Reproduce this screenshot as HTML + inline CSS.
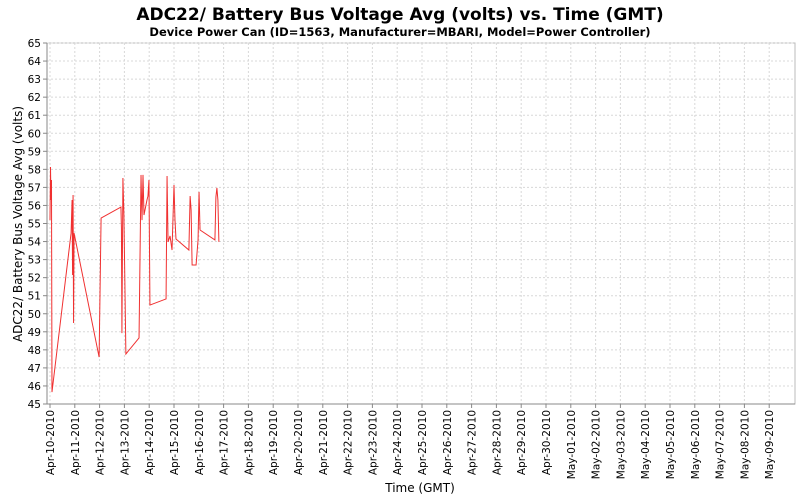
<!DOCTYPE html>
<html><head><meta charset="utf-8"><style>
body{margin:0;background:#fff;font-family:"DejaVu Sans","Liberation Sans",sans-serif}
</style></head><body>
<svg id="c" width="800" height="500" xmlns="http://www.w3.org/2000/svg">
<text x="400" y="20" text-anchor="middle" font-size="17" font-weight="bold">ADC22/ Battery Bus Voltage Avg (volts) vs. Time (GMT)</text>
<text x="400" y="36" text-anchor="middle" font-size="11.5" font-weight="bold">Device Power Can (ID=1563, Manufacturer=MBARI, Model=Power Controller)</text>
<rect x="47" y="43" width="748" height="361" fill="#fff" stroke="#bbb"/>
<g id="grid"></g><g id="axes"></g>
<polyline id="line" fill="none" stroke="#f03030" stroke-width="1"/>
<text x="420" y="492" text-anchor="middle" font-size="12">Time (GMT)</text>
<text transform="translate(22,224) rotate(-90)" text-anchor="middle" font-size="12">ADC22/ Battery Bus Voltage Avg (volts)</text>
</svg>
<script>
const dayOffsets=[0,0.02,0.04,0.06,0.08,0.85,0.89,0.91,0.93,0.95,0.97,1.98,2.06,2.86,2.88,2.9,2.94,2.98,3.06,3.59,3.67,3.71,3.75,3.79,3.91,3.95,3.99,4.03,4.68,4.72,4.76,4.84,4.92,5.0,5.04,5.08,5.6,5.65,5.69,5.73,5.89,5.97,6.01,6.05,6.65,6.69,6.73,6.77,6.81];
const volts=[55.19,58.13,56.3,57.41,45.66,54.47,56.3,52.15,56.58,49.49,54.47,47.6,55.3,55.91,54.75,48.93,57.52,55.47,47.77,48.66,57.69,55.19,57.69,55.47,56.3,56.52,57.41,50.48,50.82,57.63,53.98,54.31,53.53,57.13,55.19,54.14,53.53,56.52,55.75,52.7,52.7,54.09,56.75,54.64,54.09,56.47,56.97,56.3,53.98];
const xLabels=["Apr-10-2010","Apr-11-2010","Apr-12-2010","Apr-13-2010","Apr-14-2010","Apr-15-2010","Apr-16-2010","Apr-17-2010","Apr-18-2010","Apr-19-2010","Apr-20-2010","Apr-21-2010","Apr-22-2010","Apr-23-2010","Apr-24-2010","Apr-25-2010","Apr-26-2010","Apr-27-2010","Apr-28-2010","Apr-29-2010","Apr-30-2010","May-01-2010","May-02-2010","May-03-2010","May-04-2010","May-05-2010","May-06-2010","May-07-2010","May-08-2010","May-09-2010"];
const yTicks=[45,46,47,48,49,50,51,52,53,54,55,56,57,58,59,60,61,62,63,64,65];
const NS="http://www.w3.org/2000/svg";
const xs=d=>50+d*24.8;
const ys=v=>404-(v-45)*18.05;
const grid=document.getElementById('grid'),axes=document.getElementById('axes');
function mk(tag,at,par){const e=document.createElementNS(NS,tag);for(const k in at)e.setAttribute(k,at[k]);par.appendChild(e);return e;}
yTicks.forEach(v=>{
  const y=ys(v);
  const g=mk('line',{x1:47,x2:795,y1:y,y2:y,stroke:'#d8d8d8','stroke-dasharray':'2,2'},grid);
  
  
  mk('line',{x1:43,x2:47,y1:y,y2:y,stroke:'#888'},axes);
  const t=mk('text',{x:41,y:y+4,'text-anchor':'end','font-size':'10.5'},axes);
  
  
  t.textContent=v;
});
xLabels.forEach((s,i)=>{
  const x=xs(i);
  const g=mk('line',{x1:x,x2:x,y1:43,y2:404,stroke:'#d8d8d8','stroke-dasharray':'2,2'},grid);
  
  
  mk('line',{x1:x,x2:x,y1:404,y2:408,stroke:'#888'},axes);
  const t=mk('text',{transform:`translate(${x+4},410) rotate(-90)`,'text-anchor':'end','font-size':'10.5'},axes);
  
  
  t.textContent=s;
});
mk('line',{x1:47,x2:47,y1:43,y2:404,stroke:'#888'},axes);
mk('line',{x1:47,x2:795,y1:404,y2:404,stroke:'#888'},axes);
document.getElementById('line').setAttribute('points',dayOffsets.map((d,i)=>xs(d)+','+ys(volts[i])).join(' '));
</script>
</body></html>
